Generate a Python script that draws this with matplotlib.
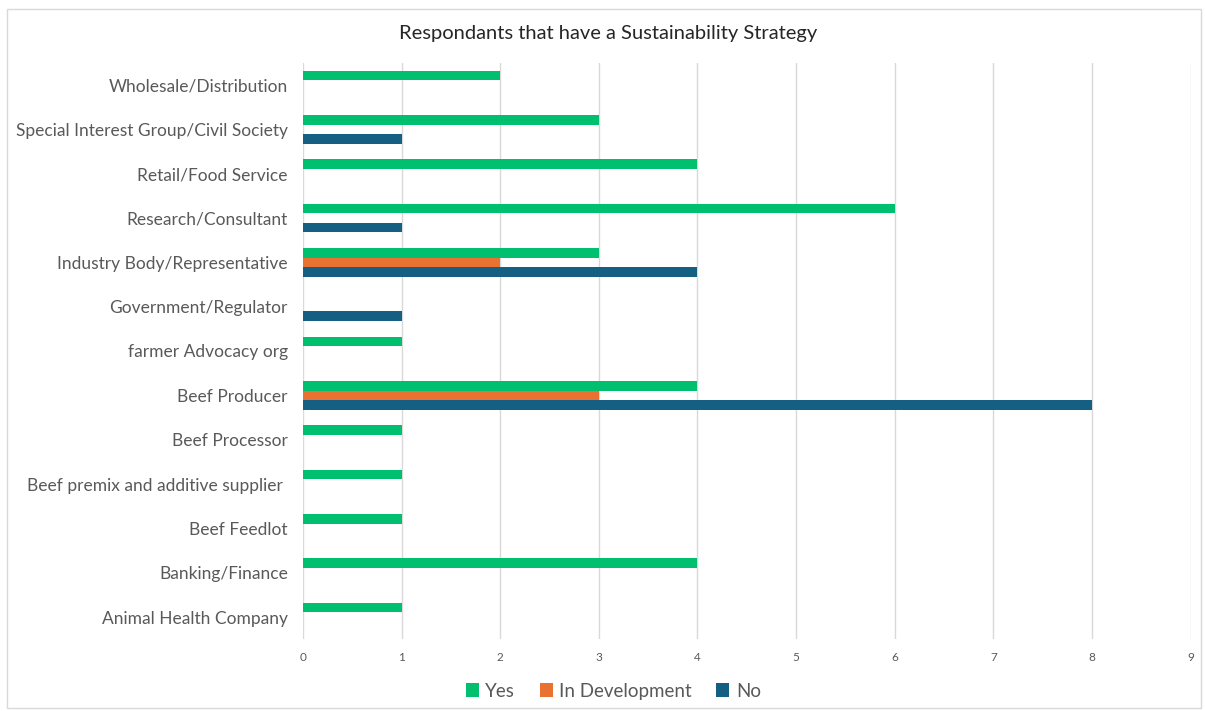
import matplotlib
matplotlib.use("Agg")
import numpy as np
import matplotlib.pyplot as plt
from matplotlib.patches import Rectangle

plt.rcParams['font.family'] = ['Lato', 'DejaVu Sans']

# categories listed bottom to top, as on the axis
categories = ["Animal Health Company", "Banking/Finance", "Beef Feedlot",
              "Beef premix and additive supplier ", "Beef Processor", "Beef Producer",
              "farmer Advocacy org", "Government/Regulator", "Industry Body/Representative",
              "Research/Consultant", "Retail/Food Service",
              "Special Interest Group/Civil Society", "Wholesale/Distribution"]
yes = [1, 4, 1, 1, 1, 4, 1, 0, 3, 6, 4, 3, 2]
in_dev = [0, 0, 0, 0, 0, 3, 0, 0, 2, 0, 0, 0, 0]
no = [0, 0, 0, 0, 0, 8, 0, 1, 4, 1, 0, 1, 0]
x_ticks = list(range(0, 10))

green = "#00BF6F"
orange = "#E97132"
blue = "#156082"

fig = plt.figure(figsize=(12.05, 7.11), dpi=100)
ax = fig.add_axes([0.2515, 0.101, 0.7365, 0.8107])

# light frame around the whole chart
fig.patches.append(Rectangle((0.006, 0.004), 0.991, 0.983, transform=fig.transFigure,
                             fill=False, edgecolor="#D9D9D9", linewidth=1))

y = np.arange(len(categories))
h = 0.215
off = 0.215
ax.barh(y + off, yes, height=h, color=green, label="Yes", zorder=3)
ax.barh(y, in_dev, height=h, color=orange, label="In Development", zorder=3)
ax.barh(y - off, no, height=h, color=blue, label="No", zorder=3)

ax.set_xlim(0, 9)
ax.set_ylim(-0.5, len(categories) - 0.5)
ax.set_xticks(x_ticks)
ax.set_yticks(y)
ax.set_yticklabels(categories, fontsize=12.5, color="#595959")
ax.tick_params(axis='x', labelsize=8.5, colors="#595959", length=0, pad=9)
ax.tick_params(axis='y', length=0, pad=11)
ax.grid(axis='x', color="#D9D9D9", linewidth=1, zorder=0)
for s in ax.spines.values():
    s.set_visible(False)

fig.text(0.505, 0.953, "Respondants that have a Sustainability Strategy",
         ha='center', va='center', fontsize=14.5, color="#262626")

handles, labels = ax.get_legend_handles_labels()
fig.legend(handles, labels, loc='center', bbox_to_anchor=(0.509, 0.028), ncol=3,
           frameon=False, fontsize=13.5, labelcolor="#595959", handlelength=0.7,
           handleheight=0.7, handletextpad=0.35, columnspacing=1.3)

fig.savefig("out.png", dpi=100)
